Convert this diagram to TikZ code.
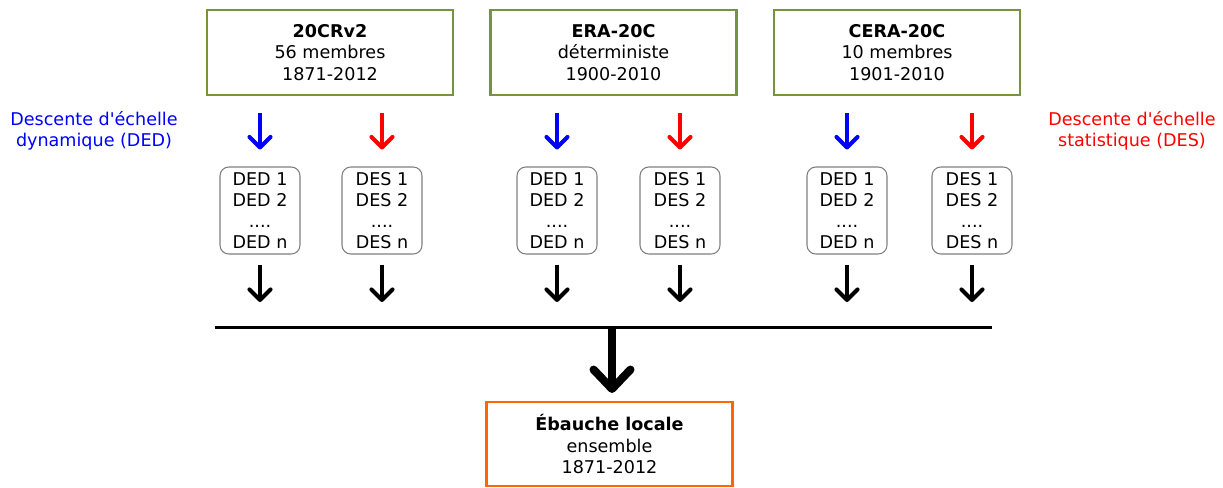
\documentclass[tikz,border=0pt]{standalone}
\usepackage{fontspec}
\setmainfont{DejaVu Sans}
\usetikzlibrary{arrows.meta}

\definecolor{olivebox}{HTML}{77933C}
\definecolor{orangebox}{HTML}{FF6600}

\tikzset{
    txt/.style={font=\fontsize{10}{12}\selectfont, align=center, inner sep=0pt},
    srcbox/.style={txt, font=\fontsize{10}{12.4}\selectfont, draw=olivebox, line width=1.5pt,
        minimum width=4.92cm, minimum height=1.7cm},
    dsbox/.style={txt, draw=gray, rounded corners=5pt, line width=0.6pt,
        minimum width=1.6cm, minimum height=1.74cm},
    outbox/.style={txt, draw=orangebox, line width=1.2pt,
        minimum width=4.92cm, minimum height=1.68cm},
    downarr/.style={line width=2.3pt, -{Straight Barb[length=6pt,width=12pt,round]}},
}

\begin{document}
\begin{tikzpicture}[x=0.02cm, y=-0.02cm]
    \useasboundingbox (0,0) rectangle (1223,487);

    % -------------------------------
    % réanalyses
    % -------------------------------
    \foreach \g/\xs/\xd/\xe/\titre/\info/\per in {
        a/330/260/382/20CRv2/56 membres/1871-2012,
        b/613.5/557/680/ERA-20C/déterministe/1900-2010,
        c/897/847/972/CERA-20C/10 membres/1901-2010} {
        \node[srcbox] (src\g) at (\xs, 52.5) {\textbf{\titre}\\\info\\\per};

        % descentes d'échelle
        \node[dsbox] (ded\g) at (\xd, 210.5) {DED 1\\DED 2\\....\\DED n};
        \node[dsbox] (des\g) at (\xe, 210.5) {DES 1\\DES 2\\....\\DES n};

        \draw[downarr, blue, shorten <=0.34cm, shorten >=0.34cm]
            (ded\g.north |- src\g.south) -- (ded\g.north);
        \draw[downarr, red, shorten <=0.34cm, shorten >=0.34cm]
            (des\g.north |- src\g.south) -- (des\g.north);
    }

    % -------------------------------
    % ensemble
    % -------------------------------
    \coordinate (barL) at (215, 327);
    \coordinate (barR) at (992, 327);
    \coordinate (join) at (612, 327);
    \draw[line width=1.7pt] (barL) -- (barR);

    \foreach \n in {deda, desa, dedb, desb, dedc, desc} {
        \draw[downarr, black, shorten <=0.2cm, shorten >=0.5cm]
            (\n.south) -- (\n.south |- barL);
    }

    \node[outbox] (ebauche) at (609.5, 444) {\textbf{Ébauche locale}\\ensemble\\1871-2012};
    \draw[line width=4.6pt, shorten >=0.16cm,
        -{Straight Barb[length=11pt,width=21pt,round]}] (join) -- (join |- ebauche.north);

    % légendes
    \node[txt, text=blue] (legded) at (94, 131) {Descente d\textquotesingle échelle\\dynamique (DED)};
    \node[txt, text=red] (legdes) at (1132, 131) {Descente d\textquotesingle échelle\\statistique (DES)};

\end{tikzpicture}
\end{document}
